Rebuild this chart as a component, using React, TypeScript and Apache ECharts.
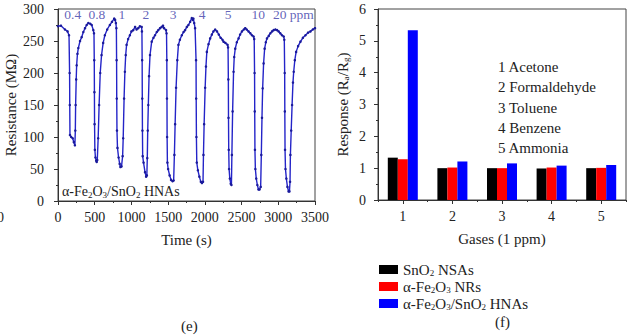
import React, { useEffect, useRef } from "react";
import * as echarts from "echarts";

// ---- Panel (e): resistance vs time ----
const resistanceCurve: [number, number][] = [
  [0, 273], [40, 274], [95, 268], [130, 265], [150, 259], [158, 200], [160, 150], [163, 103], [180, 100], [200, 98], [215, 92], [230, 87],
  [236, 110], [240, 150], [248, 190], [254, 212], [265, 230], [277, 239], [300, 250], [322, 256], [345, 264], [368, 270], [390, 275], [413, 278], [440, 277], [459, 275], [481, 267], [490, 262],
  [494, 220], [496, 170], [498, 120], [502, 80], [510, 68], [520, 63], [527, 61], [535, 64], [547, 98], [560, 150], [575, 200], [593, 228], [615, 247], [638, 259], [670, 268], [706, 275], [735, 280], [765, 285], [778, 283], [788, 278], [795, 270],
  [798, 220], [800, 160], [803, 110], [810, 83], [825, 68], [840, 58], [850, 53], [865, 54], [880, 70], [888, 98], [900, 160], [911, 202], [922, 228], [934, 244], [955, 253], [979, 259], [1000, 265], [1025, 267], [1050, 272], [1070, 268], [1093, 270], [1115, 273], [1139, 272], [1143, 265],
  [1146, 220], [1148, 160], [1150, 110], [1153, 70], [1165, 60], [1185, 45], [1200, 38], [1210, 40], [1216, 67], [1222, 110], [1230, 150], [1240, 195], [1253, 228], [1276, 249], [1300, 255], [1321, 259], [1345, 264], [1366, 267], [1390, 270], [1412, 272], [1430, 274], [1444, 270], [1471, 267], [1478, 262],
  [1482, 220], [1484, 160], [1486, 100], [1490, 60], [1500, 50], [1520, 40], [1540, 33], [1560, 31], [1575, 32], [1585, 72], [1595, 120], [1608, 177], [1625, 220], [1640, 244], [1660, 252], [1686, 259], [1710, 264], [1731, 267], [1755, 272], [1776, 275], [1800, 280], [1822, 286], [1835, 283], [1844, 285], [1855, 278], [1867, 270],
  [1880, 220], [1882, 160], [1885, 100], [1890, 60], [1905, 48], [1925, 38], [1945, 30], [1960, 28], [1975, 30], [1981, 72], [1990, 120], [2004, 177], [2015, 210], [2027, 233], [2050, 245], [2072, 254], [2095, 260], [2117, 265], [2140, 268], [2165, 265], [2190, 260], [2215, 255], [2240, 252], [2254, 249], [2280, 247], [2309, 244], [2316, 240],
  [2320, 190], [2322, 130], [2325, 80], [2330, 50], [2340, 35], [2352, 27], [2362, 25], [2368, 72], [2378, 140], [2391, 202], [2400, 225], [2414, 238], [2435, 248], [2459, 254], [2480, 260], [2505, 265], [2530, 268], [2550, 270], [2570, 268], [2595, 265], [2620, 262], [2641, 259], [2664, 257], [2672, 253],
  [2677, 200], [2679, 140], [2682, 80], [2688, 50], [2700, 35], [2715, 25], [2730, 18], [2745, 18], [2760, 22], [2769, 72], [2778, 130], [2787, 176], [2800, 215], [2814, 238], [2830, 248], [2846, 254], [2870, 258], [2892, 262], [2915, 265], [2937, 267], [2960, 268], [2983, 267], [3005, 265], [3028, 262], [3050, 259], [3074, 257], [3082, 252],
  [3087, 200], [3089, 140], [3092, 80], [3098, 50], [3110, 35], [3125, 22], [3140, 15], [3152, 15], [3160, 30], [3165, 72], [3176, 110], [3188, 150], [3200, 185], [3210, 202], [3225, 220], [3243, 233], [3270, 242], [3302, 249], [3335, 255], [3370, 259], [3405, 263], [3438, 265], [3470, 268], [3500, 270],
];
const concentrationLabels = ["0.4", "0.8", "1", "2", "3", "4", "5", "10", "20 ppm"];
const concentrationLabelTimes = [201, 529, 870, 1198, 1567, 1963, 2318, 2728, 3206];
const concentrationLabelLevel = 292;

// ---- Panel (f): response per gas ----
const gasCategories = ["1", "2", "3", "4", "5"];
const gasNames = ["1 Acetone", "2 Formaldehyde", "3 Toluene", "4 Benzene", "5 Ammonia"];
const seriesNames = ["SnO2 NSAs", "a-Fe2O3 NRs", "a-Fe2O3/SnO2 HNAs"];
const seriesLegendRich = [
  "SnO{sub|2} NSAs",
  "\u03b1-Fe{sub|2}O{sub|3} NRs",
  "\u03b1-Fe{sub|2}O{sub|3}/SnO{sub|2} HNAs",
];
const snO2Response = [1.33, 1.0, 1.0, 0.99, 1.0];
const fe2O3Response = [1.28, 1.02, 1.0, 1.02, 1.01];
const hnaResponse = [5.33, 1.21, 1.15, 1.08, 1.1];
const barColors = ["#000000", "#ff0000", "#0000ff"];

const FONT = "'Liberation Serif', 'Times New Roman', serif";
const SUB = { fontSize: 9, lineHeight: 8, verticalAlign: "bottom" as const, fontFamily: FONT, color: "#222" };

export default function App() {
  const ref = useRef<HTMLDivElement>(null);
  useEffect(() => {
    if (!ref.current) return;
    const chart = echarts.init(ref.current, undefined, { renderer: "svg" });
    const axisCommon = {
      axisLine: { show: true, lineStyle: { color: "#333", width: 1 } },
      axisTick: { show: true, length: 4, lineStyle: { color: "#333" } },
      minorTick: { show: true, splitNumber: 2, length: 2, lineStyle: { color: "#333" } },
      splitLine: { show: false },
    };
    const barData = [snO2Response, fe2O3Response, hnaResponse];
    chart.setOption({
      animation: false,
      textStyle: { fontFamily: FONT },
      grid: [
        { left: 58, right: 325, top: 9, bottom: 135, show: true, borderColor: "#444", borderWidth: 1, backgroundColor: "transparent" },
        { left: 378, right: 14, top: 9, bottom: 136, show: true, borderColor: "#444", borderWidth: 1, backgroundColor: "transparent" },
      ],
      xAxis: [
        {
          gridIndex: 0, type: "value", min: 0, max: 3500, interval: 500, ...axisCommon,
          axisLabel: { fontSize: 14, color: "#222", margin: 9, fontFamily: FONT, formatter: (v: number) => String(v) },
          name: "Time (s)", nameLocation: "middle", nameGap: 31,
          nameTextStyle: { fontSize: 15, color: "#222", fontFamily: FONT },
        },
        {
          gridIndex: 1, type: "category", data: gasCategories,
          axisLine: { show: true, lineStyle: { color: "#333" } },
          axisTick: { show: true, alignWithLabel: true, length: 4, lineStyle: { color: "#333" } },
          axisLabel: { fontSize: 14, color: "#222", margin: 9, fontFamily: FONT },
          name: "Gases (1 ppm)", nameLocation: "middle", nameGap: 31,
          nameTextStyle: { fontSize: 15, color: "#222", fontFamily: FONT },
        },
        {
          gridIndex: 1, type: "category", data: gasCategories, position: "bottom",
          axisLine: { show: false },
          axisTick: { show: true, alignWithLabel: false, length: 2, lineStyle: { color: "#333" } },
          axisLabel: { show: false },
        },
      ],
      yAxis: [
        {
          gridIndex: 0, type: "value", min: 0, max: 300, interval: 50, ...axisCommon,
          axisLabel: { fontSize: 14, color: "#222", margin: 14, fontFamily: FONT },
          name: "Resistance (M\u03a9)", nameLocation: "middle", nameGap: 40,
          nameTextStyle: { fontSize: 15, color: "#222", fontFamily: FONT },
        },
        {
          gridIndex: 1, type: "value", min: 0, max: 6, interval: 1, ...axisCommon,
          axisLabel: { fontSize: 14, color: "#222", margin: 12, fontFamily: FONT },
          name: "Response (R{sub|a}/R{sub|g})", nameLocation: "middle", nameGap: 28,
          nameTextStyle: { fontSize: 15, color: "#222", fontFamily: FONT, rich: { sub: SUB } },
        },
      ],
      legend: {
        orient: "vertical", left: 374, top: 257, itemWidth: 19, itemHeight: 9, itemGap: 2,
        icon: "rect",
        data: seriesNames,
        formatter: (name: string) => seriesLegendRich[seriesNames.indexOf(name)],
        textStyle: { fontSize: 15, color: "#222", fontFamily: FONT, lineHeight: 15, rich: { sub: SUB } },
      },
      series: [
        {
          type: "line", xAxisIndex: 0, yAxisIndex: 0, data: resistanceCurve,
          symbol: "circle", symbolSize: 2.5, showSymbol: true,
          lineStyle: { color: "#2424c8", width: 1.4 },
          itemStyle: { color: "#1a1a9a" },
        },
        {
          type: "scatter", xAxisIndex: 0, yAxisIndex: 0, symbolSize: 0, silent: true,
          data: concentrationLabelTimes.map((t, i) => ({ value: [t, concentrationLabelLevel], name: concentrationLabels[i] })),
          label: { show: true, position: "inside", formatter: (p: any) => p.name, fontSize: 13.5, color: "#3a3aa8", fontFamily: FONT },
        },
        ...seriesNames.map((n, i) => ({
          type: "bar", name: n, xAxisIndex: 1, yAxisIndex: 1, data: barData[i],
          barWidth: 10, barGap: "0%", itemStyle: { color: barColors[i] },
        })),
      ],
      graphic: [
        {
          type: "text", left: 62, top: 183,
          style: {
            text: "\u03b1-Fe{sub|2}O{sub|3}/SnO{sub|2} HNAs", fontSize: 14, fontFamily: FONT, fill: "#222", lineHeight: 16,
            rich: { sub: SUB },
          },
        },
        {
          type: "text", left: 498, top: 57,
          style: { text: gasNames.join("\n"), fontSize: 15, fontFamily: FONT, fill: "#222", lineHeight: 20.3 },
        },
        { type: "text", left: 181, top: 318, style: { text: "(e)", fontSize: 15, fontFamily: FONT, fill: "#222" } },
        { type: "text", left: 495, top: 314, style: { text: "(f)", fontSize: 15, fontFamily: FONT, fill: "#222" } },
        { type: "text", left: -3, top: 210, style: { text: "0", fontSize: 14, fontFamily: FONT, fill: "#222" } },
      ],
    });
    return () => chart.dispose();
  }, []);
  return <div ref={ref} style={{ width: 640, height: 336, position: "absolute", left: 0, top: 0, background: "#fff" }} />;
}
